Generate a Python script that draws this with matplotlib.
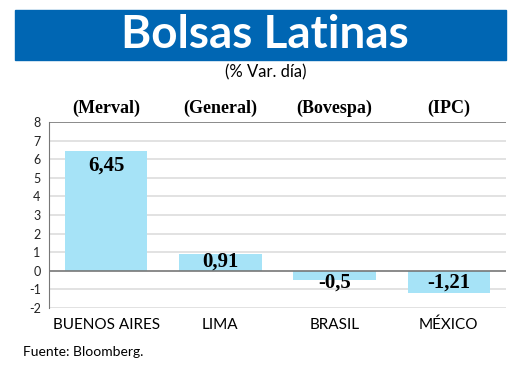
import matplotlib
matplotlib.use("Agg")
from matplotlib import pyplot as plt
from matplotlib.patches import Rectangle

paises = ["BUENOS AIRES", "LIMA", "BRASIL", "MÉXICO"]
indices = ["(Merval)", "(General)", "(Bovespa)", "(IPC)"]
variacion = [6.45, 0.91, -0.5, -1.21]
etiquetas = ["6,45", "0,91", "-0,5", "-1,21"]
yticks = list(range(-2, 9))

W, H = 520, 390
fig = plt.figure(figsize=(W / 100, H / 100), dpi=100)
fig.patch.set_facecolor("white")

# banner
fig.patches.append(Rectangle((15 / W, 1 - 60 / H), 491 / W, 50 / H,
                             transform=fig.transFigure, color="#0066b3", zorder=0))
fig.text(265 / W, 1 - 35 / H, "Bolsas Latinas", color="white", fontsize=33,
         fontweight="bold", family="Lato", ha="center", va="center")
fig.text(266 / W, 1 - 72 / H, "(% Var. día)", fontsize=12, family="Lato",
         ha="center", va="center")

ax = fig.add_axes([49 / W, 1 - 308 / H, 457 / W, 186 / H])
ax.bar(range(len(paises)), variacion, width=0.72, color="#a6e3f7", zorder=2)
ax.set_xlim(-0.5, 3.5)
ax.set_ylim(-2, 8)
ax.set_yticks(yticks)
ax.set_yticklabels([str(t) for t in yticks], family="Lato", fontsize=9,
                   color="#222222")
ax.set_xticks(range(len(paises)))
ax.set_xticklabels(paises, family="Lato", fontsize=11)
ax.tick_params(axis="both", length=0, pad=6)
ax.tick_params(axis="x", pad=7)

for t in yticks:
    if t in (0, 8):
        ax.axhline(t, color="#777777", lw=1.2, zorder=3)
    else:
        ax.axhline(t, color="#dddddd", lw=1.2, zorder=1)

for s in ["top", "right", "bottom"]:
    ax.spines[s].set_visible(False)
ax.spines["left"].set_color("#777777")

for i, v in enumerate(variacion):
    if v > 2:
        y, va = v - 0.25, "top"
    elif v > 0:
        y, va = -0.05, "bottom"
    else:
        y, va = -0.1, "top"
    ax.text(i, y, etiquetas[i], ha="center", va=va, fontsize=15,
            fontweight="bold", family="Liberation Serif", zorder=4)
    ax.text(i, 8.75, indices[i], ha="center", va="center", fontsize=13,
            fontweight="bold", family="Liberation Serif", clip_on=False)

fig.text(23 / W, 1 - 352 / H, "Fuente: Bloomberg.", fontsize=10, family="Lato",
         ha="left", va="center")

fig.savefig("out.png", dpi=100)
